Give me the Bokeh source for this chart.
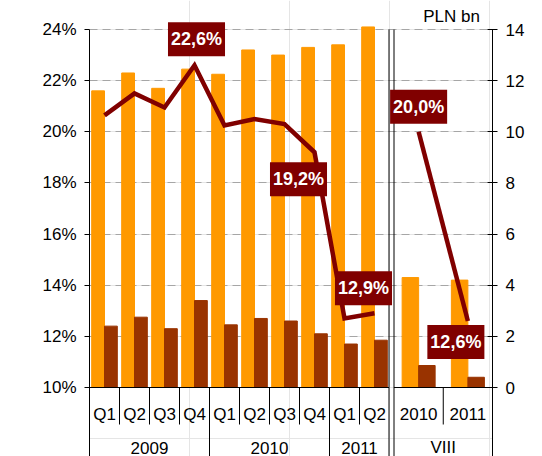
from bokeh.plotting import figure
from bokeh.models import Range1d, LinearAxis, FixedTicker, Grid
from bokeh.core.properties import value
from bokeh.embed import file_html
from bokeh.resources import INLINE

# ---------------- data ----------------
quarters = ["Q1", "Q2", "Q3", "Q4", "Q1", "Q2", "Q3", "Q4", "Q1", "Q2"]
quarter_years = ["2009", "2010", "2011"]
quarters_per_year = [4, 4, 2]
annual = ["2010", "2011"]
annual_group = "VIII"

# PLN bn (right axis)
orange_q = [11.6, 12.3, 11.7, 12.45, 12.25, 13.2, 13.0, 13.3, 13.4, 14.1]
brown_q = [2.4, 2.75, 2.3, 3.4, 2.45, 2.7, 2.6, 2.1, 1.7, 1.85]
orange_a = [4.3, 4.2]
brown_a = [0.86, 0.4]
# % (left axis)
ratio_q = [20.64, 21.5, 20.95, 22.6, 20.25, 20.5, 20.3, 19.2, 12.7, 12.9]
ratio_a = [20.0, 12.6]

left_ticks = [10, 12, 14, 16, 18, 20, 22, 24]
right_ticks = [0, 2, 4, 6, 8, 10, 12, 14]
unit_label = "PLN bn"

# labelled points: (series, index, dx px, dy px)
label_specs = [("q", 3, 2, -26), ("q", 7, -16, 27), ("q", 9, -11, -25),
               ("a", 0, 0, -25), ("a", 1, -12, 21)]

# ---------------- layout ----------------
ORANGE = "#FF9900"
BROWN = "#993300"
DARK = "#800000"
FONT = "Liberation Sans"

PPU = 358 / 14.0           # px per axis unit
Y_TOP = 24 + 29 / PPU
Y_BOT = 10 - 69 / PPU
OFFSET = 10                # left % = right bn + 10

SLOT = 30
q_centers = [SLOT * (i + 0.5) for i in range(len(quarters))]
p1_end = SLOT * len(quarters) - 0.5
p2_start = p1_end + 5
p2_end = 403
a_slot = (p2_end - p2_start) / len(annual)
a_centers = [p2_start + a_slot * (j + 0.5) for j in range(len(annual))]

QW = 12.8
AW = 16.5

p = figure(frame_width=403, frame_height=456,
           min_border_left=89, min_border_right=45,
           min_border_top=0, min_border_bottom=0,
           x_range=Range1d(0, p2_end), y_range=Range1d(Y_BOT, Y_TOP),
           x_axis_location=None, y_axis_location=None,
           output_backend="svg", toolbar_location=None,
           background_fill_color="white", border_fill_color="white")
p.outline_line_color = None
p.extra_y_ranges = {"bn": Range1d(Y_BOT - OFFSET, Y_TOP - OFFSET)}

# axes
la = LinearAxis(ticker=FixedTicker(ticks=left_ticks), bounds=(Y_BOT, 24),
                major_label_overrides={t: f"{t}%" for t in left_ticks})
ra = LinearAxis(y_range_name="bn", ticker=FixedTicker(ticks=right_ticks),
                bounds=(Y_BOT - OFFSET, 14))
for ax, tin in ((la, 0), (ra, 5)):
    ax.major_tick_in = tin
    ax.major_tick_out = 5
    ax.minor_tick_line_color = None
    ax.major_label_standoff = 8
    ax.major_label_text_font = FONT
    ax.major_label_text_font_size = "17px"
    ax.major_label_text_color = "black"
    ax.axis_line_color = "black"
    ax.major_tick_line_color = "black"
p.add_layout(la, "left")
p.add_layout(ra, "right")

p.add_layout(Grid(dimension=1, ticker=FixedTicker(ticks=left_ticks[1:]),
                  grid_line_color="#a6a6a6", grid_line_dash="8 5",
                  grid_line_width=1))

# bars
p.vbar(x=[c - QW / 2 for c in q_centers], top=orange_q, bottom=0, width=QW,
       color=ORANGE, y_range_name="bn")
p.vbar(x=[c + QW / 2 for c in q_centers], top=brown_q, bottom=0, width=QW,
       color=BROWN, y_range_name="bn")
p.vbar(x=[c - AW / 2 for c in a_centers], top=orange_a, bottom=0, width=AW,
       color=ORANGE, y_range_name="bn")
p.vbar(x=[c + AW / 2 for c in a_centers], top=brown_a, bottom=0, width=AW,
       color=BROWN, y_range_name="bn")

# lines
p.line(q_centers, ratio_q, line_width=4.5, color=DARK, line_join="miter")
p.line(a_centers, ratio_a, line_width=4.5, color=DARK, line_join="miter")

# category axis (drawn below the 10% baseline)
y_short = 10 - 37 / PPU
y_qlab = 10 - 26.5 / PPU
y_ylab = 10 - 60 / PPU

p.segment(x0=[0, p2_start], y0=[10, 10], x1=[p1_end, p2_end], y1=[10, 10],
          color="black", line_width=1)

short_x = []
long_x = []
start = 0
for n in quarters_per_year:
    for k in range(1, n):
        short_x.append(SLOT * (start + k))
    if start > 0:
        long_x.append(SLOT * start)
    start += n
for j in range(1, len(annual)):
    short_x.append(p2_start + a_slot * j)
p.segment(x0=short_x, y0=[10] * len(short_x), x1=short_x, y1=[y_short] * len(short_x),
          color="black", line_width=1)
p.segment(x0=long_x, y0=[10] * len(long_x), x1=long_x, y1=[Y_BOT] * len(long_x),
          color="black", line_width=1)
p.segment(x0=[p1_end, p2_start], y0=[24, 24], x1=[p1_end, p2_start], y1=[Y_BOT, Y_BOT],
          color="black", line_width=1)

p.text(x=q_centers, y=[y_qlab] * len(quarters), text=quarters,
       text_font=value(FONT), text_font_size="17px", text_color="black",
       text_align="center", text_baseline="middle")
p.text(x=a_centers, y=[y_qlab] * len(annual), text=annual,
       text_font=value(FONT), text_font_size="17px", text_color="black",
       text_align="center", text_baseline="middle")
yc = []
start = 0
for n in quarters_per_year:
    yc.append(SLOT * (start + n / 2))
    start += n
p.text(x=yc + [(p2_start + p2_end) / 2], y=[y_ylab] * (len(yc) + 1),
       text=quarter_years + [annual_group],
       text_font=value(FONT), text_font_size="17px", text_color="black",
       text_align="center", text_baseline="middle")

p.text(x=[362], y=[24 + 13 / PPU], text=[unit_label],
       text_font=value(FONT), text_font_size="17px", text_color="black",
       text_align="center", text_baseline="middle")

# value labels
lx, ly, lt, dxs, dys = [], [], [], [], []
for s, i, dx, dy in label_specs:
    xs, vs = (q_centers, ratio_q) if s == "q" else (a_centers, ratio_a)
    lx.append(xs[i]); ly.append(vs[i])
    lt.append(f"{vs[i]:.1f}".replace(".", ",") + "%")
    dxs.append(dx); dys.append(dy)
p.text(x=lx, y=ly, text=lt, x_offset=dxs, y_offset=dys,
       text_font=value(FONT), text_font_size="18px", text_font_style="bold",
       text_color="white", text_align="center", text_baseline="middle",
       background_fill_color=DARK, padding=dict(left=3, right=3, top=7, bottom=7))

open("out.html", "w").write(file_html(p, INLINE))
